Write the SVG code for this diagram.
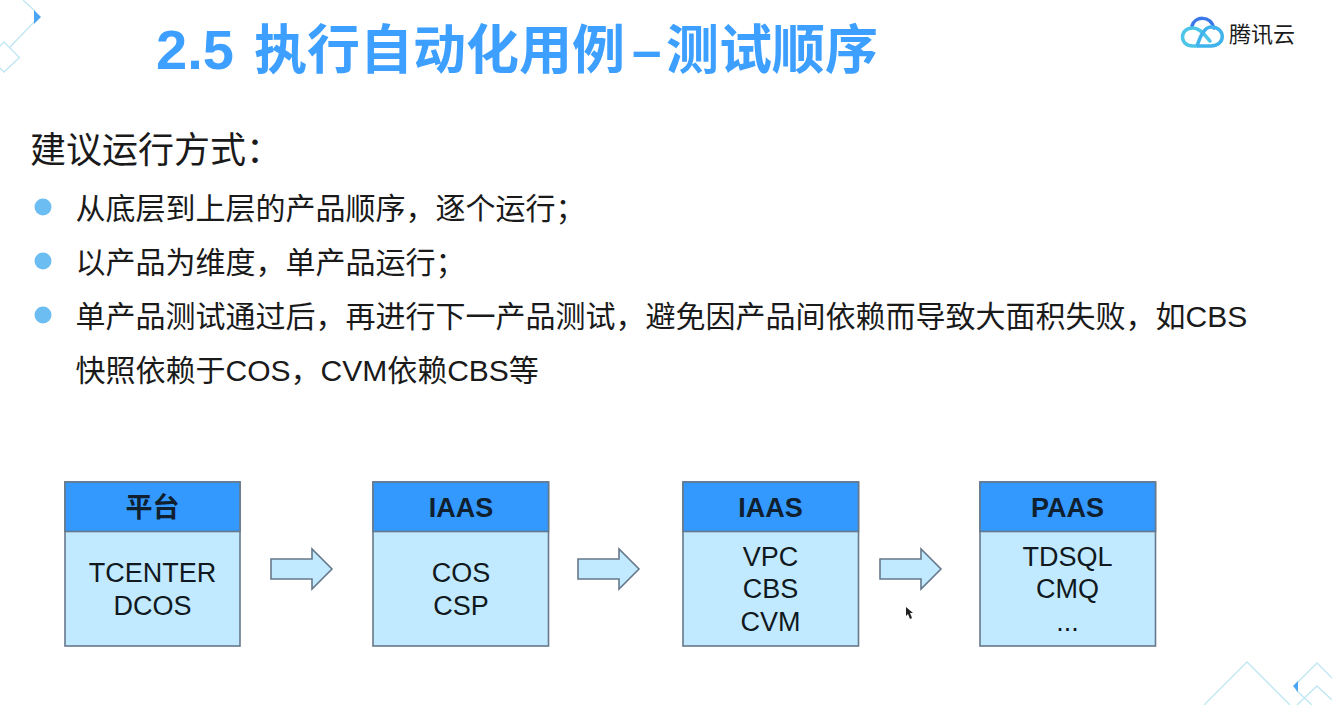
<svg xmlns="http://www.w3.org/2000/svg" width="1332" height="705" viewBox="0 0 1332 705">
<style>
text{font-family:"Liberation Sans","Noto Sans CJK SC",sans-serif;fill:#1a1a1a}
.title{font-size:53px;font-weight:700;fill:#3d9fff}
.num{font-size:56px}
.h{font-size:36px}
.b{font-size:30px}
.dot{fill:#6cbdf2}
.hd{fill:#3399ff;stroke:#66788a;stroke-width:1.6}
.bd{fill:#c1e9ff;stroke:#66788a;stroke-width:1.6}
.ht{font-size:27px;font-weight:700;text-anchor:middle;fill:#10202e}
.bt{font-size:27px;text-anchor:middle;fill:#101820}
.ar{fill:#c1e9ff;stroke:#66788a;stroke-width:1.6}
.deco{fill:none;stroke:#bfe6f3;stroke-width:1.3}
</style>
<g id="decoration">
<path class="deco" d="M23 0L35 11M35 21L10 47M4 42L19.500 57.500L4 72L-11 57Z"/>
<path d="M34 10L41 17L34 24Z" fill="#4aa5f5"/>
<path class="deco" d="M1204 705L1247 662L1290 705M1296 684L1317 663L1332 678M1297 705L1317 686L1332 700M1296 690L1312 705"/>
<path d="M1293 686L1298 681V692Z" fill="#4aa5f5"/>
</g>
<g id="title"><text class="title" y="69"><tspan class="num" x="156">2.5</tspan><tspan x="254">执行自动化用例</tspan><tspan x="632">–</tspan><tspan x="666">测试顺序</tspan></text></g>
<g id="logo">
<path d="M1192 26C1195 16 1210 15 1214 28" fill="none" stroke="#3a78ea" stroke-width="3.500" stroke-linecap="round"/>
<path d="M1197 46H1193C1179 46 1179 28 1193 28C1201 28 1206 37 1210 41" fill="none" stroke="#4cc5e8" stroke-width="3.500" stroke-linecap="round"/>
<path d="M1197 46H1211C1226 46 1226 27 1211 27C1204 27 1200 37 1197 46" fill="none" stroke="#41b3ec" stroke-width="3.500"/>
<text x="1229" y="42" font-size="22" fill="#222">腾讯云</text>
</g>
<g id="text">
<text class="h" x="30" y="163">建议运行方式：</text>
<circle class="dot" cx="43" cy="207" r="8.500"/>
<text class="b" x="75.500" y="219">从底层到上层的产品顺序，逐个运行；</text>
<circle class="dot" cx="43" cy="261" r="8.500"/>
<text class="b" x="75.500" y="273">以产品为维度，单产品运行；</text>
<circle class="dot" cx="43" cy="315" r="8.500"/>
<text class="b" x="75.500" y="327">单产品测试通过后，再进行下一产品测试，避免因产品间依赖而导致大面积失败，如CBS</text>
<text class="b" x="75.500" y="381">快照依赖于COS，CVM依赖CBS等</text>
</g>
<g id="node-platform">
<rect class="bd" x="65" y="482" width="175" height="164"/><rect class="hd" x="65" y="482" width="175" height="49.500"/>
<text class="ht" x="152.500" y="517">平台</text>
<text class="bt" x="152.500" y="582">TCENTER</text><text class="bt" x="152.500" y="615">DCOS</text>
</g>
<g id="node-iaas1">
<rect class="bd" x="373" y="482" width="175.500" height="164"/><rect class="hd" x="373" y="482" width="175.500" height="49.500"/>
<text class="ht" x="461" y="517">IAAS</text>
<text class="bt" x="461" y="582">COS</text><text class="bt" x="461" y="615">CSP</text>
</g>
<g id="node-iaas2">
<rect class="bd" x="683" y="482" width="175.500" height="164"/><rect class="hd" x="683" y="482" width="175.500" height="49.500"/>
<text class="ht" x="770.500" y="517">IAAS</text>
<text class="bt" x="770.500" y="566">VPC</text><text class="bt" x="770.500" y="598">CBS</text><text class="bt" x="770.500" y="631">CVM</text>
</g>
<g id="node-paas">
<rect class="bd" x="980" y="482" width="175.500" height="164"/><rect class="hd" x="980" y="482" width="175.500" height="49.500"/>
<text class="ht" x="1067.500" y="517">PAAS</text>
<text class="bt" x="1067.500" y="566">TDSQL</text><text class="bt" x="1067.500" y="598">CMQ</text><text class="bt" x="1067.500" y="631">...</text>
</g>
<g id="connectors">
<path class="ar" d="M271 559H312V549L332 569L312 589V579H271Z"/>
<path class="ar" d="M578 559H619V549L639 569L619 589V579H578Z"/>
<path class="ar" d="M880 559H921V549L941 569L921 589V579H880Z"/>
</g>
<path id="cursor" d="M906 607L906 616L908 614L910 619L912 618L910 613L913 613Z" fill="#222"/>
</svg>
